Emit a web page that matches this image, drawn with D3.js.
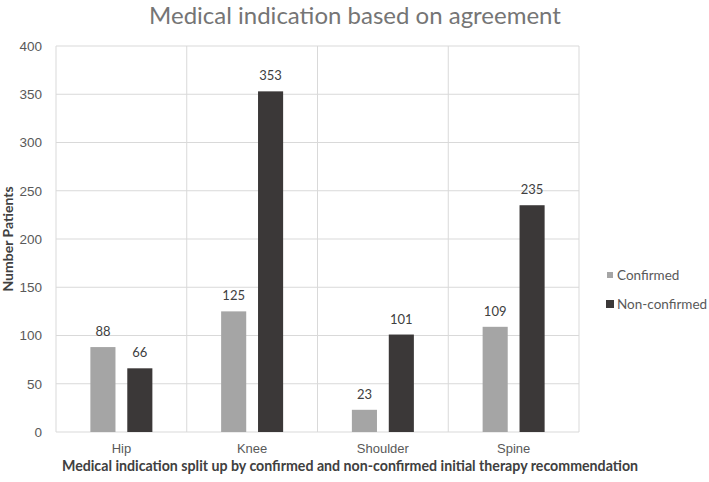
<!DOCTYPE html>
<html>
<head>
<meta charset="utf-8">
<script src="https://cdn.jsdelivr.net/npm/d3@7"></script>
<style>
    body { margin: 0; background: #fff; }
    svg { display: block; font-family: Lato, "Open Sans", sans-serif; }
</style>
</head>
<body>
<svg id="chart" width="709" height="482"></svg>
<script>
const categories = ["Hip", "Knee", "Shoulder", "Spine"];
const seriesNames = ["Confirmed", "Non-confirmed"];
const confirmed = [88, 125, 23, 109];
const nonConfirmed = [66, 353, 101, 235];
const yTicks = [0, 50, 100, 150, 200, 250, 300, 350, 400];

const colors = {
    "Confirmed": "#a5a5a5",
    "Non-confirmed": "#3b3838"
};

const rows = categories.map((c, i) => ({
    category: c,
    "Confirmed": confirmed[i],
    "Non-confirmed": nonConfirmed[i]
}));

let svg = d3.select("#chart"),
    margin = {top: 46, right: 130, bottom: 50, left: 56},
    width = +svg.attr("width") - margin.left - margin.right,
    height = +svg.attr("height") - margin.top - margin.bottom,
    g = svg.append("g").attr("transform", "translate(" + margin.left + "," + margin.top + ")");

let x0 = d3.scaleBand()
    .domain(categories)
    .range([0, width])
    .padding(0);

let x1 = d3.scaleBand()
    .domain(seriesNames)
    .range([x0.bandwidth() / 2 - 31, x0.bandwidth() / 2 + 31])
    .paddingInner(0.32);

let y = d3.scaleLinear()
    .domain([0, 400])
    .range([height, 0]);

// horizontal grid
g.append("g")
    .selectAll("line")
    .data(yTicks)
    .enter().append("line")
    .attr("x1", 0)
    .attr("x2", width)
    .attr("y1", d => y(d))
    .attr("y2", d => y(d))
    .attr("stroke", "#d9d9d9")
    .attr("stroke-width", 1);

// vertical category separators
g.append("g")
    .selectAll("line")
    .data(categories.map(c => x0(c)).concat([width]))
    .enter().append("line")
    .attr("x1", d => d)
    .attr("x2", d => d)
    .attr("y1", 0)
    .attr("y2", height)
    .attr("stroke", "#d9d9d9")
    .attr("stroke-width", 1);

let yAxis = g.append("g")
    .call(d3.axisLeft(y).tickValues(yTicks).tickSize(0).tickPadding(14));
yAxis.select(".domain").remove();
yAxis.selectAll("text")
    .attr("fill", "#595959")
    .style("font-size", "13.5px");

let xAxis = g.append("g")
    .attr("transform", "translate(0," + height + ")")
    .call(d3.axisBottom(x0).tickSize(0).tickPadding(12));
xAxis.select(".domain").remove();
xAxis.selectAll("text")
    .attr("fill", "#595959")
    .style("font-size", "13px");

let group = g.selectAll(".cat")
    .data(rows)
    .enter().append("g")
    .attr("class", "cat")
    .attr("transform", d => "translate(" + x0(d.category) + ",0)");

group.selectAll("rect")
    .data(d => seriesNames.map(k => ({key: k, value: d[k]})))
    .enter().append("rect")
    .attr("x", d => x1(d.key))
    .attr("y", d => y(d.value))
    .attr("width", x1.bandwidth())
    .attr("height", d => y(0) - y(d.value))
    .attr("fill", d => colors[d.key]);

group.selectAll(".lbl")
    .data(d => seriesNames.map(k => ({key: k, value: d[k]})))
    .enter().append("text")
    .attr("class", "lbl")
    .attr("x", d => x1(d.key) + x1.bandwidth() / 2)
    .attr("y", d => y(d.value) - 11)
    .attr("text-anchor", "middle")
    .attr("fill", "#404040")
    .style("font-size", "13px")
    .text(d => d.value);

// title
svg.append("text")
    .attr("x", 355)
    .attr("y", 24)
    .attr("text-anchor", "middle")
    .attr("fill", "#757575")
    .style("font-size", "24px")
    .text("Medical indication based on agreement");

// axis titles
svg.append("text")
    .attr("transform", "translate(13," + (margin.top + height / 2) + ") rotate(-90)")
    .attr("text-anchor", "middle")
    .attr("fill", "#404040")
    .style("font-size", "14px")
    .style("font-weight", "bold")
    .text("Number Patients");

svg.append("text")
    .attr("x", 350)
    .attr("y", 471)
    .attr("text-anchor", "middle")
    .attr("fill", "#404040")
    .style("font-size", "14.2px")
    .style("font-weight", "bold")
    .text("Medical indication split up by confirmed and non-confirmed initial therapy recommendation");

// legend
let legend = svg.append("g")
    .attr("transform", "translate(606,271)");

let item = legend.selectAll("g")
    .data(seriesNames)
    .enter().append("g")
    .attr("transform", (d, i) => "translate(0," + i * 29 + ")");

item.append("rect")
    .attr("x", 0)
    .attr("y", 0)
    .attr("width", d => d === "Confirmed" ? 6 : 8)
    .attr("height", d => d === "Confirmed" ? 6 : 8)
    .attr("transform", d => d === "Confirmed" ? "translate(1,1)" : "")
    .attr("fill", d => colors[d]);

item.append("text")
    .attr("x", 11)
    .attr("y", 4)
    .attr("dy", "0.35em")
    .attr("fill", "#595959")
    .style("font-size", "13.5px")
    .text(d => d);
</script>
</body>
</html>
